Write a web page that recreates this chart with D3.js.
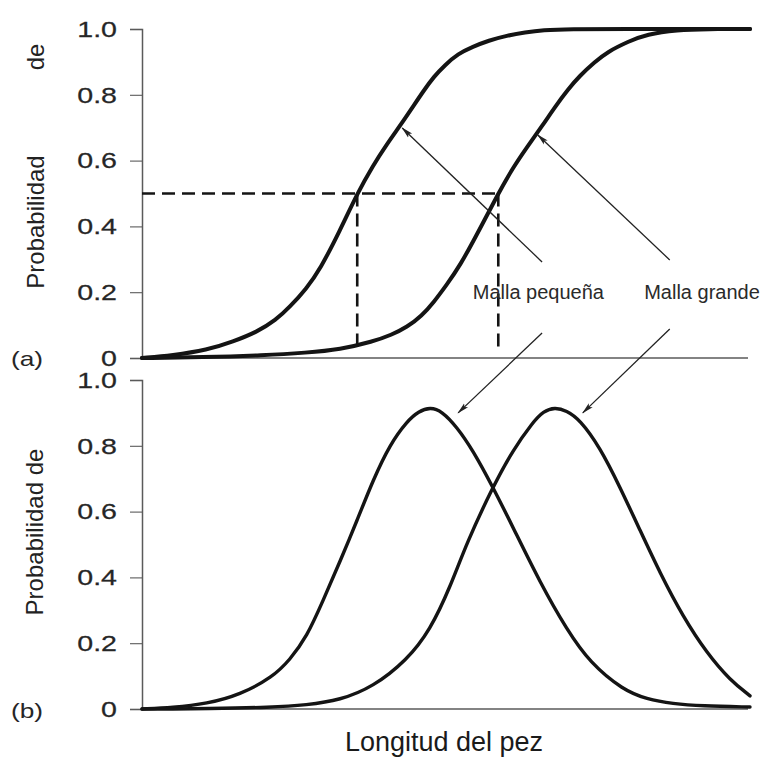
<!DOCTYPE html>
<html>
<head>
<meta charset="utf-8">
<script src="https://cdn.jsdelivr.net/npm/d3@7"></script>
<style>
  html, body { margin: 0; padding: 0; background: #fff; }
  svg { display: block; }
</style>
</head>
<body>
<svg id="chart" width="770" height="758"></svg>
<script>
// Fish length (relative units, 0–100) and probability readings for each curve.

// (a) Selection curves: probability of retention vs length
const selSmallLen  = [0, 5, 10.7, 15, 18.9, 22, 24.3, 27, 29.3, 32.5, 35.4, 38, 40.2, 42.6, 44.5, 46.3, 48, 49.8, 52, 54.4, 57, 60, 63, 66, 70, 80, 90, 100];
const selSmallProb = [0, 0.008, 0.024, 0.05, 0.079, 0.115, 0.155, 0.21, 0.27, 0.385, 0.5, 0.585, 0.648, 0.71, 0.762, 0.812, 0.855, 0.89, 0.925, 0.946, 0.965, 0.98, 0.99, 0.997, 1, 1, 1, 1];

const selLargeLen  = [0, 10, 20, 27, 32.6, 38, 41, 43.6, 46, 48, 50, 52.3, 55.5, 58.6, 61, 63.4, 65.8, 68, 70, 72, 74.5, 76.5, 80, 83, 88, 93, 100];
const selLargeProb = [0, 0.002, 0.008, 0.016, 0.026, 0.05, 0.07, 0.094, 0.128, 0.17, 0.22, 0.28, 0.39, 0.5, 0.578, 0.643, 0.705, 0.765, 0.815, 0.858, 0.9, 0.93, 0.962, 0.984, 0.997, 1, 1];

// (b) Gillnet-type selection curves
const gillSmallLen  = [0, 5, 10.7, 16.1, 21.5, 24.3, 27.1, 29.8, 32.6, 35.4, 38, 40.8, 43.6, 45.5, 47.4, 49.3, 51.8, 54.4, 57.7, 61, 65.5, 69.9, 73.7, 79.1, 83, 87.3, 92, 100];
const gillSmallProb = [0, 0.004, 0.016, 0.043, 0.097, 0.149, 0.219, 0.33, 0.45, 0.574, 0.696, 0.805, 0.875, 0.905, 0.917, 0.906, 0.857, 0.787, 0.675, 0.553, 0.383, 0.24, 0.14, 0.058, 0.03, 0.016, 0.009, 0.006];

const gillLargeLen  = [0, 5, 10, 21.5, 27, 32.6, 38, 43.6, 47.4, 50.7, 53.4, 57.7, 61, 64.3, 66, 67.9, 69.8, 72, 75.3, 78.6, 81.9, 85.2, 89, 92.9, 96.7, 100];
const gillLargeProb = [0, 0, 0.001, 0.005, 0.012, 0.027, 0.067, 0.149, 0.24, 0.371, 0.505, 0.675, 0.787, 0.872, 0.905, 0.917, 0.907, 0.88, 0.796, 0.675, 0.544, 0.413, 0.28, 0.17, 0.088, 0.04];

// 50 % retention lengths marked with dashed guides
const l50Len  = [35.4, 58.6];
const l50Prob = 0.5;
const guideFoot = 0.015;

// Axis ticks
const yTicks = [0, 0.2, 0.4, 0.6, 0.8, 1.0];
const yTickLabels = ["0", "0.2", "0.4", "0.6", "0.8", "1.0"];

// Mesh labels (positions in panel (a) data units)
const meshNames = ["Malla pequeña", "Malla grande"];
const meshLabelLen = [54.4, 82.6];
const meshLabelProb = 0.18;
// Arrows from labels: up to panel (a) curve, down to panel (b) curve
const arrowUpFrom   = [[65.8, 0.292], [86.8, 0.298]];
const arrowUpTo     = [[42.8, 0.699], [65.1, 0.678]];
const arrowDownFrom = [[65.8, 0.076], [86.8, 0.088]];
const arrowDownTo   = [[52.0, 0.90], [72.5, 0.90]];

const svg = d3.select("#chart");

const x = d3.scaleLinear().domain([0, 100]).range([142, 750]);
const yA = d3.scaleLinear().domain([0, 1]).range([358, 29]);
const yB = d3.scaleLinear().domain([0, 1]).range([709, 380]);

const ink = "#141414";
const axisGrey = "#5a5a5a";
const font = "Liberation Sans, Arial, sans-serif";

// Arrowhead marker
svg.append("defs").append("marker")
  .attr("id", "head")
  .attr("viewBox", "0 0 12 8")
  .attr("refX", 11).attr("refY", 4)
  .attr("markerWidth", 12).attr("markerHeight", 8)
  .attr("markerUnits", "userSpaceOnUse")
  .attr("orient", "auto")
  .append("path")
  .attr("d", "M0,1.2 L12,4 L0,6.8 L2.5,4 Z")
  .attr("fill", "#222");

function drawAxes(y, tag, tagY) {
  const g = svg.append("g");
  // baseline
  g.append("line")
    .attr("x1", x(0)).attr("x2", 748)
    .attr("y1", y(0)).attr("y2", y(0))
    .attr("stroke", axisGrey).attr("stroke-width", 1.3);
  // vertical axis
  const ax = d3.axisLeft(y).tickValues(yTicks).tickSize(12).tickFormat((d, i) => yTickLabels[i]);
  const ag = g.append("g").attr("transform", `translate(${x(0)},0)`).call(ax);
  ag.select(".domain").attr("stroke", axisGrey).attr("stroke-width", 1.5);
  ag.selectAll(".tick line").attr("stroke", axisGrey).attr("stroke-width", 1.1);
  ag.selectAll(".tick text").remove();
  // tick labels drawn in a wide face
  yTicks.forEach((v, i) => {
    g.append("text")
      .attr("transform", `translate(117,${y(v) + 7.8}) scale(1.3,1)`)
      .attr("text-anchor", "end")
      .attr("font-family", font)
      .attr("font-size", 22)
      .attr("fill", "#262626")
      .attr("stroke", "#262626").attr("stroke-width", 0.25)
      .text(yTickLabels[i]);
  });
  // panel tag
  g.append("text")
    .attr("transform", `translate(11,${tagY}) scale(1.25,1)`)
    .attr("font-family", font)
    .attr("font-size", 21)
    .attr("fill", "#262626")
    .text(tag);
}

drawAxes(yA, "(a)", 366);
drawAxes(yB, "(b)", 718);

// Axis titles
svg.append("text")
  .attr("transform", `translate(44,222) rotate(-90)`)
  .attr("text-anchor", "middle")
  .attr("font-family", font).attr("font-size", 24).attr("fill", "#222")
  .text("Probabilidad");
svg.append("text")
  .attr("transform", `translate(44,57) rotate(-90)`)
  .attr("text-anchor", "middle")
  .attr("font-family", font).attr("font-size", 24).attr("fill", "#222")
  .text("de");
svg.append("text")
  .attr("transform", `translate(43,532) rotate(-90)`)
  .attr("text-anchor", "middle")
  .attr("font-family", font).attr("font-size", 24).attr("fill", "#222")
  .text("Probabilidad de");
svg.append("text")
  .attr("x", 444).attr("y", 751)
  .attr("text-anchor", "middle")
  .attr("font-family", font).attr("font-size", 27).attr("fill", "#1a1a1a")
  .text("Longitud del pez");

// Curves (B-spline through the readings to smooth reading noise)
function curve(lens, probs, y, width) {
  const pts = lens.map((l, i) => [l, probs[i]]);
  const line = d3.line().x(d => x(d[0])).y(d => y(d[1])).curve(d3.curveBasis);
  svg.append("path")
    .attr("d", line(pts))
    .attr("fill", "none")
    .attr("stroke", ink)
    .attr("stroke-width", width)
    .attr("stroke-linejoin", "round")
    .attr("stroke-linecap", "round");
}

// Dashed guides for the 50 % lengths
const dash = svg.append("g")
  .attr("stroke", ink).attr("stroke-width", 2.6).attr("stroke-dasharray", "13,7").attr("fill", "none");
dash.append("line")
  .attr("x1", x(0)).attr("x2", x(l50Len[1]))
  .attr("y1", yA(l50Prob)).attr("y2", yA(l50Prob));
l50Len.forEach(l => {
  dash.append("line")
    .attr("x1", x(l)).attr("x2", x(l))
    .attr("y1", yA(l50Prob)).attr("y2", yA(guideFoot));
});

curve(selSmallLen, selSmallProb, yA, 4);
curve(selLargeLen, selLargeProb, yA, 4);
curve(gillSmallLen, gillSmallProb, yB, 3.4);
curve(gillLargeLen, gillLargeProb, yB, 3.4);

// Mesh labels and arrows
meshNames.forEach((name, i) => {
  svg.append("text")
    .attr("x", x(meshLabelLen[i])).attr("y", yA(meshLabelProb))
    .attr("font-family", font).attr("font-size", 20).attr("fill", "#2a2a2a")
    .text(name);
  svg.append("line")
    .attr("x1", x(arrowUpFrom[i][0])).attr("y1", yA(arrowUpFrom[i][1]))
    .attr("x2", x(arrowUpTo[i][0])).attr("y2", yA(arrowUpTo[i][1]))
    .attr("stroke", "#222").attr("stroke-width", 1.3)
    .attr("marker-end", "url(#head)");
  svg.append("line")
    .attr("x1", x(arrowDownFrom[i][0])).attr("y1", yA(arrowDownFrom[i][1]))
    .attr("x2", x(arrowDownTo[i][0])).attr("y2", yB(arrowDownTo[i][1]))
    .attr("stroke", "#222").attr("stroke-width", 1.3)
    .attr("marker-end", "url(#head)");
});
</script>
</body>
</html>
